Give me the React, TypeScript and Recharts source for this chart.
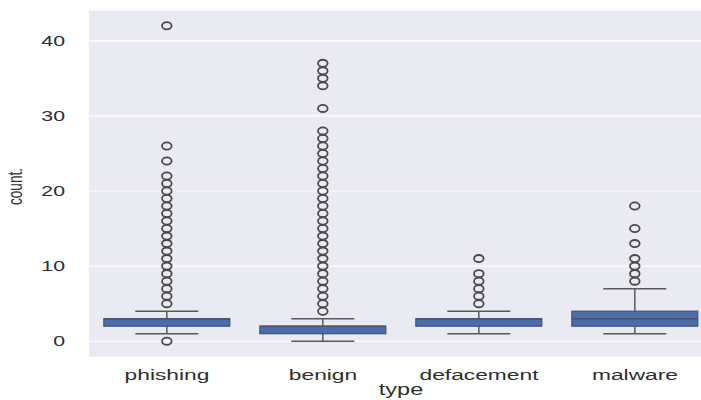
import React from 'react';
import { ComposedChart, Bar, XAxis, YAxis, CartesianGrid } from 'recharts';

// URL token counts per site type, summarised as box plots
const categories = ['phishing', 'benign', 'defacement', 'malware'];
const whiskerLow = [1, 0, 1, 1];
const q1 = [2, 1, 2, 2];
const median = [3, 2, 3, 3];
const q3 = [3, 2, 3, 4];
const whiskerHigh = [4, 3, 4, 7];
const fliers: number[][] = [
  [0, 5, 6, 7, 8, 9, 10, 11, 12, 13, 14, 15, 16, 17, 18, 19, 20, 21, 22, 24, 26, 42],
  [4, 5, 6, 7, 8, 9, 10, 11, 12, 13, 14, 15, 16, 17, 18, 19, 20, 21, 22, 23, 24, 25, 26, 27, 28, 31, 34, 35, 36, 37],
  [5, 6, 7, 8, 9, 11],
  [8, 9, 10, 11, 13, 15, 18],
];
const yTicks = [0, 10, 20, 30, 40];

const data = categories.map((type, i) => ({
  type,
  range: [whiskerLow[i], whiskerHigh[i]],
  q1: q1[i],
  median: median[i],
  q3: q3[i],
  fliers: fliers[i],
}));

// horizontal stretch applied to glyphs and flier markers
const SX = 1.47;
const TEXT = '#2e2e2e';
const FONT = '"Liberation Sans", Arial, sans-serif';

const BoxShape = (props: any) => {
  const { x, y, width, height, payload } = props;
  const [lo, hi] = payload.range;
  const per = height / (hi - lo);
  const py = (v: number) => y + (hi - v) * per;
  const cx = x + width / 2;
  const capHalf = width / 4;
  const lineCol = '#595959';
  return (
    <g>
      <line x1={cx} x2={cx} y1={py(hi)} y2={py(payload.q3)} stroke={lineCol} strokeWidth={1.5} />
      <line x1={cx} x2={cx} y1={py(payload.q1)} y2={py(lo)} stroke={lineCol} strokeWidth={1.5} />
      <line x1={cx - capHalf} x2={cx + capHalf} y1={py(hi)} y2={py(hi)} stroke={lineCol} strokeWidth={1.5} />
      <line x1={cx - capHalf} x2={cx + capHalf} y1={py(lo)} y2={py(lo)} stroke={lineCol} strokeWidth={1.5} />
      <rect
        x={x}
        y={py(payload.q3)}
        width={width}
        height={py(payload.q1) - py(payload.q3)}
        fill="#4c6dab"
        stroke="#4a5270"
        strokeWidth={1.2}
      />
      <line x1={x} x2={x + width} y1={py(payload.median)} y2={py(payload.median)} stroke="#4a5270" strokeWidth={1.5} />
      {payload.fliers.map((v: number, k: number) => (
        <ellipse
          key={k}
          cx={cx}
          cy={py(v)}
          rx={4.8}
          ry={3.6}
          fill="none"
          stroke="#4a4a4a"
          strokeWidth={1.8}
        />
      ))}
    </g>
  );
};

const XTick = (props: any) => {
  const { x, y, payload } = props;
  return (
    <text
      transform={`translate(${x},${y + 23}) scale(${SX},1)`}
      textAnchor="middle"
      fill={TEXT}
      fontSize={15.5}
      fontFamily={FONT}
    >
      {payload.value}
    </text>
  );
};

const YTick = (props: any) => {
  const { x, y, payload } = props;
  return (
    <text
      transform={`translate(${x},${y}) scale(${SX},1)`}
      textAnchor="end"
      dy="0.36em"
      fill={TEXT}
      fontSize={14.5}
      fontFamily={FONT}
    >
      {payload.value}
    </text>
  );
};

const XLabel = (props: any) => {
  const vb = props.viewBox;
  return (
    <text
      transform={`translate(${vb.x + vb.width / 2},${vb.y + 38}) scale(${SX},1)`}
      textAnchor="middle"
      fill={TEXT}
      fontSize={16}
      fontFamily={FONT}
    >
      type
    </text>
  );
};

const YLabel = (props: any) => {
  const vb = props.viewBox;
  return (
    <text
      transform={`translate(21.5,${vb.y + vb.height / 2 + 3}) scale(${SX},1) rotate(-90)`}
      textAnchor="middle"
      fill={TEXT}
      fontSize={13.5}
      fontFamily={FONT}
    >
      count.
    </text>
  );
};

export default function App() {
  return (
    <div
      style={{
        position: 'absolute',
        left: 0,
        top: 0,
        width: 701,
        height: 400,
        overflow: 'hidden',
        background: '#ffffff',
      }}
    >
      <ComposedChart
        width={713}
        height={400}
        data={data}
        margin={{ top: 10, right: 0, bottom: 0, left: 0 }}
        barCategoryGap="9.5%"
      >
        <CartesianGrid fill="#eaeaf2" stroke="#ffffff" strokeWidth={1.2} vertical={false} />
        <XAxis
          dataKey="type"
          height={43}
          axisLine={false}
          tickLine={false}
          tickSize={0}
          tickMargin={0}
          tick={<XTick />}
          interval={0}
          label={{ content: <XLabel /> }}
        />
        <YAxis
          width={89}
          type="number"
          domain={[-2.1, 44.1]}
          ticks={yTicks}
          axisLine={false}
          tickLine={false}
          tickSize={0}
          tickMargin={24}
          tick={<YTick />}
          label={{ content: <YLabel /> }}
        />
        <Bar dataKey="range" shape={<BoxShape />} isAnimationActive={false} />
      </ComposedChart>
    </div>
  );
}
